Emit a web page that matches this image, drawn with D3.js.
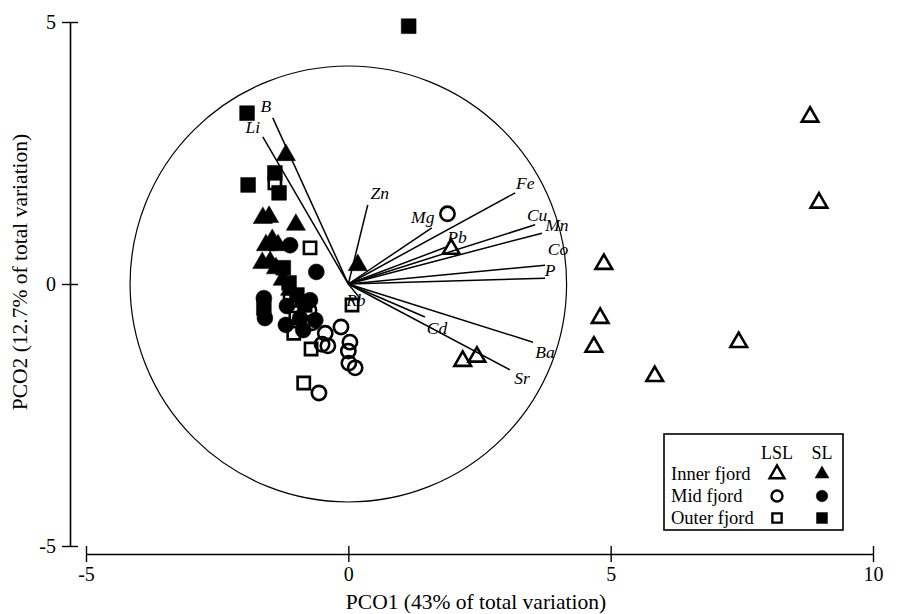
<!DOCTYPE html>
<html><head><meta charset="utf-8">
<script src="https://cdn.jsdelivr.net/npm/d3@7"></script>
<style>body{margin:0;background:#fff}svg{display:block}</style>
</head><body>
<svg id="c" width="900" height="614"></svg>
<script>
// ---- data ----
const xTicks = [-5, 0, 5, 10];
const yTicks = [-5, 0, 5];
const xTitle = "PCO1 (43% of total variation)";
const yTitle = "PCO2 (12.7% of total variation)";
const circleRadius = 4.16;

const innerLSL = [[8.8,3.19],[8.97,1.55],[4.87,0.38],[4.8,-0.65],[4.68,-1.2],[7.44,-1.11],[5.84,-1.76],[1.96,0.67],[2.18,-1.47],[2.45,-1.39]];
const innerSL = [[-1.19,2.46],[0.18,0.36],[-1.0,1.13],[-1.63,1.26],[-1.51,1.28],[-1.45,0.84],[-1.57,0.74],[-1.34,0.74],[-1.64,0.4],[-1.49,0.42],[-1.38,0.3],[-1.25,0.08],[-1.11,-0.11]];
const midLSL = [[1.89,1.34],[-0.14,-0.82],[0.03,-1.11],[0.0,-1.28],[0.01,-1.51],[0.13,-1.6],[-0.44,-0.94],[-0.5,-1.15],[-0.39,-1.18],[-0.69,-0.74],[-0.56,-2.08],[-0.75,-0.5]];
const midSL = [[-0.61,0.23],[-1.61,-0.27],[-1.59,-0.65],[-1.17,-0.42],[-0.92,-0.65],[-1.19,-0.78],[-0.73,-0.31],[-0.86,-0.88],[-0.63,-0.69],[-1.11,0.74]];
const outerLSL = [[-1.4,1.93],[-0.73,0.69],[0.07,-0.4],[-0.85,-1.89],[-0.71,-1.24],[-1.04,-0.94],[-1.0,-0.65],[-1.11,-0.31]];
const outerSL = [[1.15,4.92],[-1.93,3.26],[-1.91,1.89],[-1.4,2.12],[-1.32,1.74],[-1.24,0.31],[-1.13,0.02],[-0.98,-0.21],[-1.61,-0.46],[-0.83,-0.4]];

const vecNames = ["B","Li","Zn","Mg","Pb","Fe","Cu","Mn","Co","P","Cd","Ba","Sr","Rb"];
const vecX = [-1.44,-1.63,0.37,1.59,1.88,3.18,3.56,3.69,3.75,3.75,1.46,3.52,3.08,0.22];
const vecY = [3.17,2.81,1.51,1.07,0.71,1.74,1.13,0.97,0.36,0.11,-0.63,-1.11,-1.64,-0.27];

const legendRows = ["Inner fjord","Mid fjord","Outer fjord"];
const legendCols = ["LSL","SL"];

// ---- style ----
const labelOffset = {B:[-7,-12],Li:[-10,-10],Zn:[12,-12],Mg:[-9,-11],Pb:[10,-10],Fe:[10,-10],Cu:[2,-10],Mn:[15,-8],Co:[13,-16],P:[5,-8],Cd:[12,11],Ba:[12,10],Sr:[12,8],Rb:[-4,2]};

const svg = d3.select("#c");
const x = d3.scaleLinear().domain([-5,10]).range([86,873]);
const y = d3.scaleLinear().domain([-5,5]).range([546,22]);
const serif = "'Liberation Serif','Times New Roman',serif";

// axes
const fmt = d => String(d);
const yAxis = svg.append("g").attr("transform","translate(70,0)")
  .call(d3.axisLeft(y).tickValues(yTicks).tickFormat(fmt).tickSizeInner(8).tickSizeOuter(0));
yAxis.selectAll(".tick line").attr("x2",8).attr("x1",-8);
const xAxis = svg.append("g").attr("transform","translate(0,554)")
  .call(d3.axisBottom(x).tickValues(xTicks).tickFormat(fmt).tickSizeInner(8).tickSizeOuter(0));
xAxis.selectAll(".tick line").attr("y1",-8).attr("y2",8);
[xAxis,yAxis].forEach(a=>{
  a.select(".domain").attr("stroke","#000").attr("stroke-width",1.6);
  a.selectAll(".tick line").attr("stroke","#000").attr("stroke-width",1.4);
  a.selectAll(".tick text").attr("font-family",serif).attr("font-size",20).attr("fill","#000");
});
yAxis.selectAll(".tick text").attr("x",-14);
xAxis.selectAll(".tick text").attr("y",13);

svg.append("text").attr("x",476).attr("y",609).attr("text-anchor","middle")
  .attr("font-family",serif).attr("font-size",21.5).text(xTitle);
svg.append("text").attr("transform",`translate(27,${y(0)-12}) rotate(-90)`).attr("text-anchor","middle")
  .attr("font-family",serif).attr("font-size",21.5).text(yTitle);

// correlation circle
svg.append("ellipse").attr("cx",x(0)).attr("cy",y(0))
  .attr("rx",x(circleRadius)-x(0)).attr("ry",y(0)-y(circleRadius))
  .attr("fill","none").attr("stroke","#000").attr("stroke-width",1.2);

// vectors
const vg = svg.append("g");
vecNames.forEach((n,i)=>{
  vg.append("line").attr("x1",x(0)).attr("y1",y(0)).attr("x2",x(vecX[i])).attr("y2",y(vecY[i]))
    .attr("stroke","#000").attr("stroke-width",1.5);
  const o = labelOffset[n];
  vg.append("text").attr("x",x(vecX[i])+o[0]).attr("y",y(vecY[i])+o[1]+6)
    .attr("text-anchor","middle").attr("font-family",serif).attr("font-style","italic")
    .attr("font-size",17.5).text(n);
});

// points
const pts = svg.append("g");
function draw(data, type, size, filled){
  const sym = d3.symbol().type(type).size(size);
  pts.selectAll(null).data(data).join("path")
    .attr("transform",d=>`translate(${x(d[0])},${y(d[1])})`)
    .attr("d",sym())
    .attr("fill",filled?"#000":"none")
    .attr("stroke","#000").attr("stroke-width",filled?0.5:2.6).attr("stroke-linejoin","miter");
}
draw(midLSL, d3.symbolCircle, 160, false);
draw(outerLSL, d3.symbolSquare, 150, false);
draw(innerLSL, d3.symbolTriangle, 120, false);
draw(midSL, d3.symbolCircle, 200, true);
draw(outerSL, d3.symbolSquare, 220, true);
draw(innerSL, d3.symbolTriangle, 160, true);

// legend
const lg = svg.append("g");
lg.append("rect").attr("x",664).attr("y",434).attr("width",179).attr("height",96)
  .attr("fill","#fff").attr("stroke","#000").attr("stroke-width",1.6);
const colX = [777, 822];
legendCols.forEach((c,i)=>lg.append("text").attr("x",colX[i]).attr("y",459).attr("text-anchor","middle")
  .attr("font-family",serif).attr("font-size",18).text(c));
const legTypes = [d3.symbolTriangle, d3.symbolCircle, d3.symbolSquare];
const legSizes = [[95,85],[95,105],[85,120]];
legendRows.forEach((r,i)=>{
  const yy = 474 + i*22;
  lg.append("text").attr("x",671).attr("y",yy+6).attr("font-family",serif).attr("font-size",18.5).text(r);
  [0,1].forEach(j=>{
    lg.append("path").attr("transform",`translate(${colX[j]},${yy})`)
      .attr("d",d3.symbol().type(legTypes[i]).size(legSizes[i][j])())
      .attr("fill",j?"#000":"none").attr("stroke","#000").attr("stroke-width",j?0.5:2.4);
  });
});
</script>
</body></html>
